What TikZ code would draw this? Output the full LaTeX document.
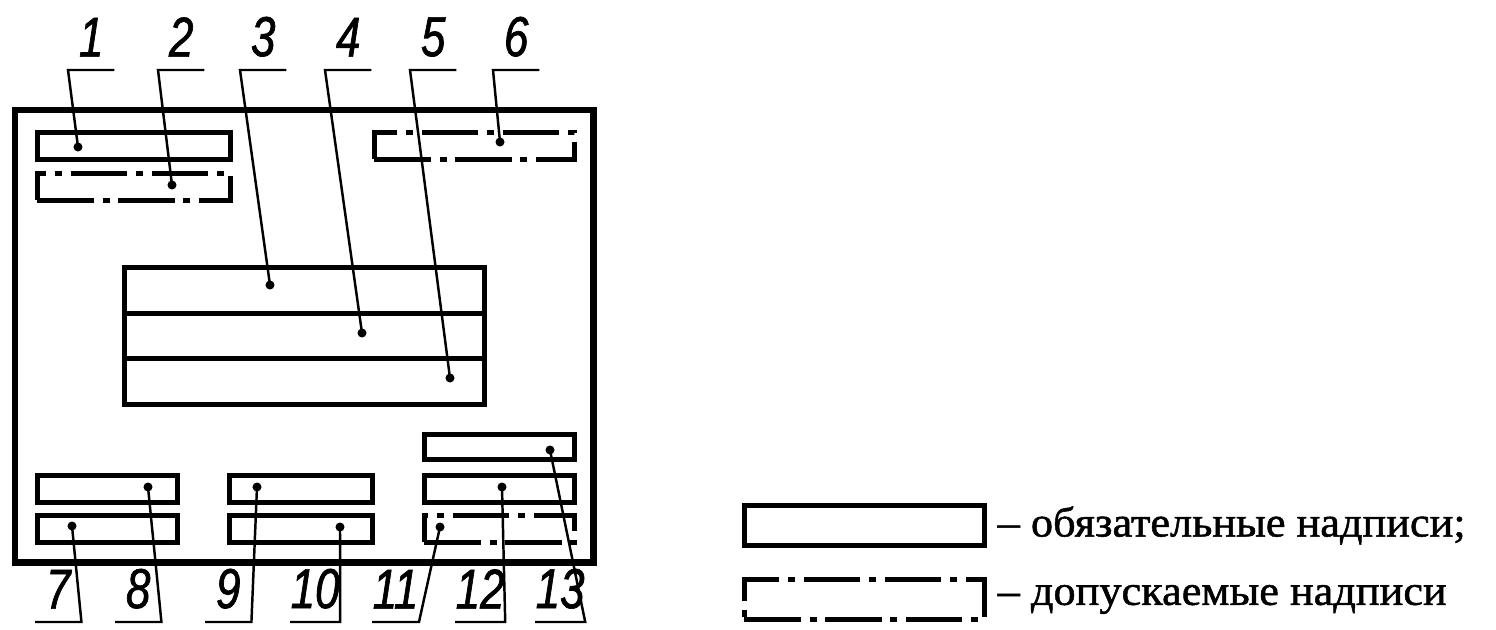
\documentclass[tikz,border=0pt]{standalone}
\usepackage{fontspec}
\setmainfont{Liberation Serif}
\newfontfamily\numfont[FakeStretch=0.78, FakeBold=1.2]{Liberation Sans}
\newfontfamily\legfont[FakeStretch=1.05, FakeBold=1.2]{Liberation Serif}

\tikzset{
  frame/.style={draw, line width=1.8pt},
  slot/.style={draw, line width=1.4pt, inner sep=0pt, anchor=north west, minimum height=0.27cm},
  optslot/.style={slot, dash pattern=on 16pt off 2.5pt on 2pt off 2.5pt},
  dot/.style={circle, fill, inner sep=0pt, minimum size=0.9mm},
  num/.style={inner xsep=0pt, inner ysep=3.6pt, anchor=south west, minimum width=0.45cm,
    font=\numfont\itshape\fontsize{16}{16}\selectfont},
  leader/.style={line width=0.7pt},
}

\begin{document}
\begin{tikzpicture}[x=0.01cm, y=-0.01cm]
  \useasboundingbox (0,0) rectangle (1496,630);

  % outer sheet
  \node[frame, inner sep=0pt, anchor=north west, minimum width=5.78cm, minimum height=4.52cm] (sheet) at (12,107) {};

  % upper slots
  \node[slot, minimum width=1.93cm] (b1) at (35,130) {};
  \node[optslot, minimum width=1.93cm] (b2) at (35,171) {};
  \node[optslot, minimum width=2.00cm] (b6) at (372,130) {};

  % central block
  \node[slot, minimum width=3.60cm, minimum height=0.46cm] (b3) at (122,265) {};
  \node[slot, minimum width=3.60cm, minimum height=0.45cm] (b4) at (122,311) {};
  \node[slot, minimum width=3.60cm, minimum height=0.46cm] (b5) at (122,356) {};

  % lower slots
  \node[slot, minimum width=1.40cm] (b8) at (35,473) {};
  \node[slot, minimum width=1.40cm] (b7) at (35,513) {};
  \node[slot, minimum width=1.43cm] (b9) at (227,473) {};
  \node[slot, minimum width=1.43cm] (b10) at (227,513) {};
  \node[slot, minimum width=1.50cm, minimum height=0.25cm] (b13) at (422,432) {};
  \node[slot, minimum width=1.50cm] (b12) at (422,473) {};
  \node[optslot, minimum width=1.50cm] (b11) at (422,513) {};

  % dots
  \node[dot] (d1) at (78,147) {};
  \node[dot] (d2) at (172,185) {};
  \node[dot] (d3) at (270,285) {};
  \node[dot] (d4) at (362,333) {};
  \node[dot] (d5) at (450,378) {};
  \node[dot] (d6) at (500,142) {};
  \node[dot] (d7) at (72,526) {};
  \node[dot] (d8) at (148,487) {};
  \node[dot] (d9) at (257,487) {};
  \node[dot] (d10) at (340,527) {};
  \node[dot] (d11) at (440,527) {};
  \node[dot] (d12) at (502,487) {};
  \node[dot] (d13) at (550,450) {};

  % numbers above
  \foreach \n/\x in {1/68, 2/158, 3/240, 4/325, 5/410, 6/493} {
    \node[num] (n\n) at (\x,70) {\n};
    \draw[leader] (n\n.south east) -- (n\n.south west) -- (d\n.center);
  }

  % numbers below
  \foreach \n/\x in {7/35, 8/115, 9/205, 10/290, 11/372, 12/455, 13/535} {
    \node[num] (n\n) at (\x,622) {\n};
    \draw[leader] (n\n.south west) -- (n\n.south east) -- (d\n.center);
  }

  % legend
  \node[slot, minimum width=2.40cm, minimum height=0.40cm] (req) at (742,503) {};
  \node[optslot, minimum width=2.40cm, minimum height=0.40cm] (opt) at (742,577) {};
  \node[anchor=west, inner sep=0pt, font=\legfont\fontsize{12}{12}\selectfont] (reqtxt) at ([xshift=0.1cm]req.east) {– обязательные надписи;};
  \node[anchor=west, inner sep=0pt, font=\legfont\fontsize{12}{12}\selectfont] (opttxt) at ([xshift=0.1cm]opt.east) {– допускаемые надписи};
\end{tikzpicture}
\end{document}
